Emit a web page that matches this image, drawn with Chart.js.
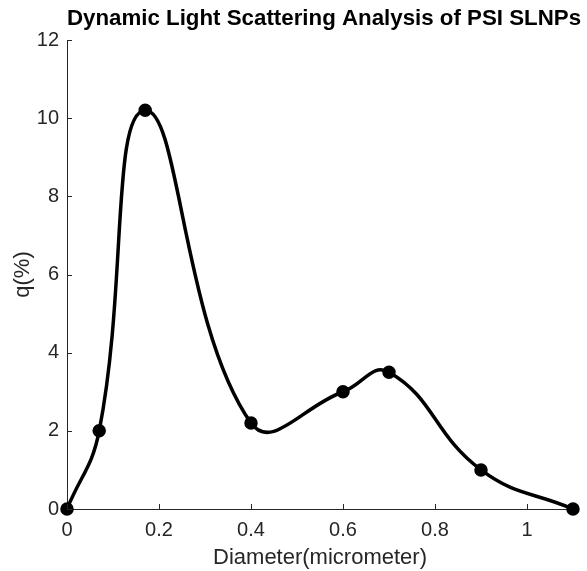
<!DOCTYPE html>
<html>
<head>
<meta charset="utf-8">
<script src="https://cdn.jsdelivr.net/npm/chart.js@4.4.1/dist/chart.umd.min.js"></script>
<style>
  html, body { margin: 0; padding: 0; background: #fff; }
  #wrap { width: 587px; height: 571px; }
</style>
</head>
<body>
<div id="wrap"><canvas id="dlsChart" width="587" height="571"></canvas></div>
<script>
// measured diameters (micrometer) and size distribution q(%)
const diameters = [0, 0.07, 0.17, 0.4, 0.6, 0.7, 0.9, 1.1];
const qValues = [0, 2, 10.2, 2.2, 3, 3.5, 1, 0];

const xTicks = [0, 0.2, 0.4, 0.6, 0.8, 1];
const xTickLabels = ['0', '0.2', '0.4', '0.6', '0.8', '1'];
const yTicks = [0, 2, 4, 6, 8, 10, 12];
const yTickLabels = ['0', '2', '4', '6', '8', '10', '12'];

const titleText = 'Dynamic Light Scattering Analysis of PSI SLNPs';
const axisColor = '#262626';
const fontFamily = '"Liberation Sans", Arial, Helvetica, sans-serif';

// title and inward tick marks, drawn like a matlab axes
const axesDecor = {
  id: 'axesDecor',
  afterDraw(chart) {
    const ctx = chart.ctx;
    const area = chart.chartArea;
    const xs = chart.scales.x;
    const ys = chart.scales.y;
    ctx.save();
    ctx.strokeStyle = axisColor;
    ctx.lineWidth = 1;
    ctx.beginPath();
    xTicks.forEach(v => {
      const px = Math.round(xs.getPixelForValue(v)) + 0.5;
      ctx.moveTo(px, area.bottom);
      ctx.lineTo(px, area.bottom - 5);
    });
    yTicks.forEach(v => {
      const py = Math.round(ys.getPixelForValue(v)) + 0.5;
      ctx.moveTo(area.left, py);
      ctx.lineTo(area.left + 5, py);
    });
    ctx.stroke();

    ctx.fillStyle = '#000';
    ctx.font = 'bold 22.3px ' + fontFamily;
    ctx.textAlign = 'center';
    ctx.textBaseline = 'middle';
    ctx.fillText(titleText, 324, 19);
    ctx.restore();
  }
};

const ctx = document.getElementById('dlsChart').getContext('2d');
const myChart = new Chart(ctx, {
  type: 'line',
  data: {
    datasets: [{
      data: diameters.map((d, i) => ({ x: d, y: qValues[i] })),
      borderColor: '#000',
      backgroundColor: '#000',
      borderWidth: 3.5,
      pointRadius: 5,
      pointBackgroundColor: '#000',
      pointBorderColor: '#000',
      tension: 0.45,
      clip: false
    }]
  },
  options: {
    responsive: false,
    animation: false,
    layout: { padding: { left: 0, right: 14, top: 40, bottom: 0 } },
    plugins: {
      legend: { display: false },
      tooltip: { enabled: false }
    },
    scales: {
      x: {
        type: 'linear',
        min: 0,
        max: 1.1,
        afterBuildTicks: scale => { scale.ticks = xTicks.map(v => ({ value: v })); },
        afterFit: scale => { scale.height = 62; },
        grid: { display: true, drawOnChartArea: false, drawTicks: false },
        border: { display: true, color: axisColor, width: 1 },
        ticks: {
          color: axisColor,
          padding: 9,
          maxRotation: 0,
          font: { family: fontFamily, size: 20 },
          callback: (v, i) => xTickLabels[i]
        },
        title: {
          display: true,
          text: 'Diameter(micrometer)',
          color: axisColor,
          padding: { top: 0, bottom: 0 },
          font: { family: fontFamily, size: 22 }
        }
      },
      y: {
        min: 0,
        max: 12,
        afterBuildTicks: scale => { scale.ticks = yTicks.map(v => ({ value: v })); },
        afterFit: scale => { scale.width = 67; },
        grid: { display: true, drawOnChartArea: false, drawTicks: false },
        border: { display: true, color: axisColor, width: 1 },
        ticks: {
          color: axisColor,
          padding: 8,
          font: { family: fontFamily, size: 20 },
          callback: (v, i) => yTickLabels[i]
        },
        title: {
          display: true,
          text: 'q(%)',
          color: axisColor,
          padding: { top: 10, bottom: 0 },
          font: { family: fontFamily, size: 22 }
        }
      }
    }
  },
  plugins: [axesDecor]
});
</script>
</body>
</html>
